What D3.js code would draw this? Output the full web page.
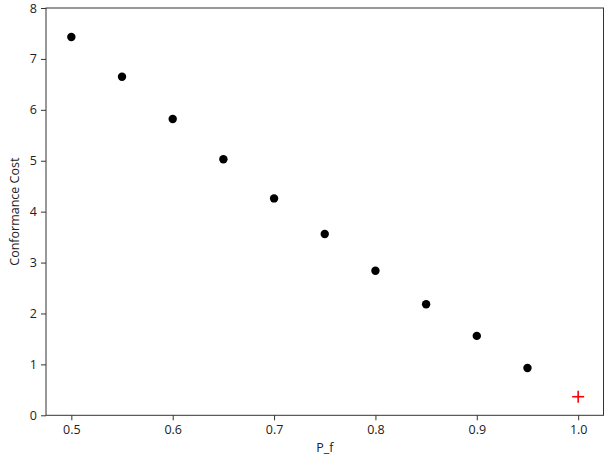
<!DOCTYPE html>
<html><head><meta charset="utf-8">
<script src="https://cdn.jsdelivr.net/npm/d3@7"></script>
<style>body{margin:0;background:#fff}</style>
</head><body>
<script>
const pf = [0.5,0.55,0.6,0.65,0.7,0.75,0.8,0.85,0.9,0.95];
const cost = [7.43,6.65,5.82,5.03,4.26,3.56,2.84,2.18,1.56,0.93];
const refPoint = [1.0];
const refCost = [0.365];
const xTicks = [0.5,0.6,0.7,0.8,0.9,1.0];
const yTicks = [0,1,2,3,4,5,6,7,8];

const W=611,H=459;
const L=46,R=603.5,T=8,B=415.3;
const svg=d3.select("body").append("svg").attr("width",W).attr("height",H)
  .style("font-family","'Open Sans', sans-serif");
const x=d3.scaleLinear().domain([0.475,1.025]).range([L,R]);
const y=d3.scaleLinear().domain([0,8]).range([B,T]);

svg.append("rect").attr("x",L).attr("y",T).attr("width",R-L).attr("height",B-T)
  .attr("fill","none").attr("stroke","#333").attr("stroke-width",1);

const xa=svg.append("g").attr("transform",`translate(0,${B})`)
  .call(d3.axisBottom(x).tickValues(xTicks).tickFormat(d3.format(".1f")).tickSize(5).tickPadding(5));
const ya=svg.append("g").attr("transform",`translate(${L},0)`)
  .call(d3.axisLeft(y).tickValues(yTicks).tickFormat(d3.format("d")).tickSize(5).tickPadding(4));
[xa,ya].forEach(a=>{a.select(".domain").remove();
  a.selectAll("line").attr("stroke","#333");
  a.selectAll("text").attr("fill","#222").style("font-size","12.5px").style("font-family","'Open Sans', sans-serif");});

svg.selectAll("circle.pt").data(pf).join("circle").attr("class","pt")
  .attr("cx",d=>x(d)).attr("cy",(d,i)=>y(cost[i])).attr("r",4.2).attr("fill","#000");

const plus=svg.selectAll("g.plus").data(refPoint).join("g").attr("class","plus")
  .attr("transform",(d,i)=>`translate(${x(d)},${y(refCost[i])})`);
plus.append("line").attr("x1",-6).attr("x2",6).attr("stroke","#ff0000").attr("stroke-width",1.6);
plus.append("line").attr("y1",-6).attr("y2",6).attr("stroke","#ff0000").attr("stroke-width",1.6);

svg.append("text").attr("x",(L+R)/2).attr("y",452).attr("text-anchor","middle")
  .style("font-size","12.5px").attr("fill","#222").text("P_f");
svg.append("text").attr("transform",`translate(19,${(T+B)/2}) rotate(-90)`).attr("text-anchor","middle")
  .style("font-size","12.5px").attr("fill","#222").text("Conformance Cost");
</script>
</body></html>
